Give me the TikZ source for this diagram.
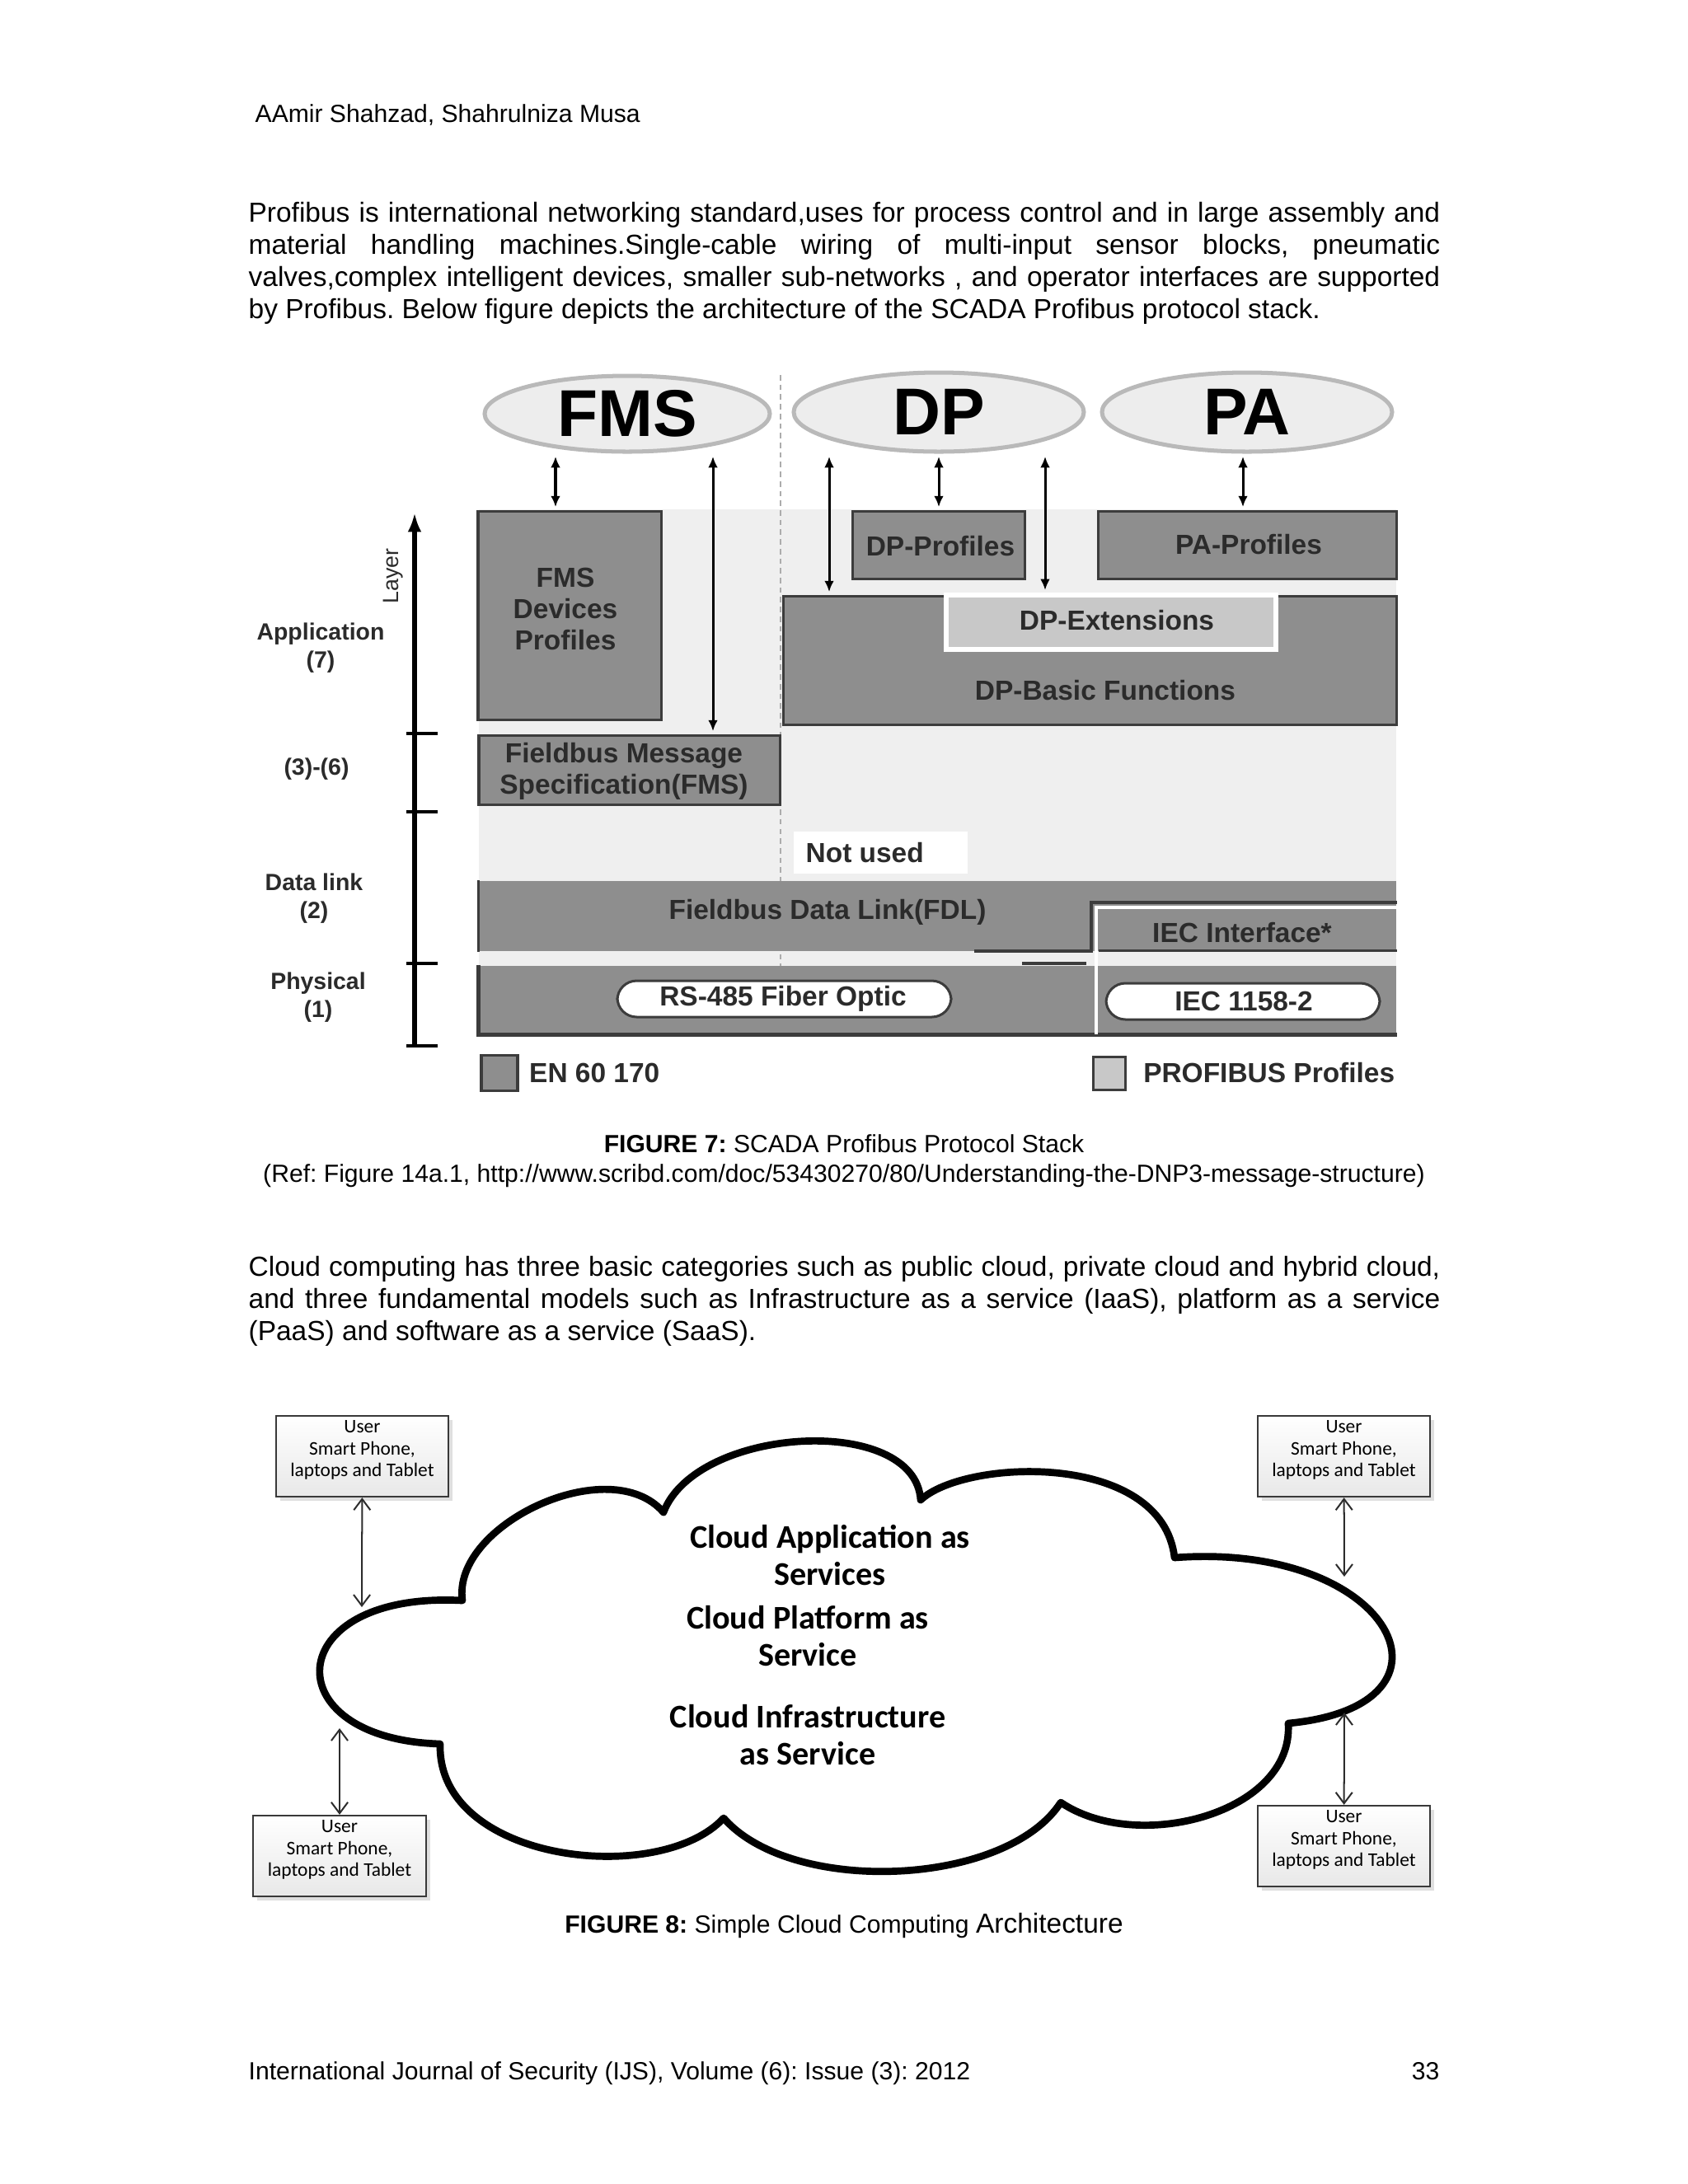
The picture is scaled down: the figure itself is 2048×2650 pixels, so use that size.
\documentclass[tikz,border=0pt]{standalone}
\usepackage{fontspec}
\setmainfont{Liberation Sans}
\newfontfamily\calibrifont{Carlito}
\usepackage{tikz}
\usetikzlibrary{arrows.meta,positioning,fit,shapes.geometric,shadows}
\definecolor{laydark}{HTML}{8E8E8E}
\definecolor{laylight}{HTML}{EFEFEF}
\definecolor{layext}{HTML}{C8C8C8}
\definecolor{layedge}{HTML}{3C3C3C}
\definecolor{laytext}{HTML}{2B2B2B}
\newcommand{\fsz}[2]{\fontsize{#1}{#2}\selectfont}
\newcommand{\pxu}{0.29883pt}
\frenchspacing

\begin{document}
\begin{tikzpicture}[x=0.29883pt, y=-0.29883pt, font=\fsz{10}{11.6},
  para/.style={anchor=north west, inner sep=0pt, text width=432pt, align=justify},
  lay/.style={fill=laydark, draw=layedge, line width=0.9pt, inner sep=0pt},
  ext/.style={fill=layext, draw=white, line width=1.6pt, inner sep=0pt},
  pill/.style={fill=white, draw=layedge, line width=0.9pt, rounded corners=7pt, inner sep=0pt},
  txt/.style={font=\bfseries\fsz{10}{11.4}, text=laytext, align=center, inner sep=0pt},
  lvl/.style={font=\bfseries\fsz{8.5}{10}, text=laytext, align=center, inner sep=0pt},
  proto/.style={ellipse, fill=gray!14, draw=gray!55, line width=1.5pt, inner sep=0pt, font=\bfseries\fsz{24}{24}},
  arr/.style={{Latex[length=4pt,width=3.5pt]}-{Latex[length=4pt,width=3.5pt]}, line width=0.9pt, shorten <=1pt, shorten >=1pt},
  usr/.style={draw=gray!45!black, line width=0.7pt, top color=white, bottom color=gray!18,
    drop shadow={shadow xshift=1.5pt, shadow yshift=-1.5pt, opacity=0.25},
    font=\calibrifont\fsz{7}{7.9}, align=center, inner sep=0pt},
  link/.style={{Straight Barb[length=4pt,width=6pt]}-{Straight Barb[length=4pt,width=6pt]}, draw=gray!35!black, line width=0.6pt},
  svc/.style={font=\calibrifont\bfseries\fsz{12}{13.4}, align=center, inner sep=0pt},
  capt/.style={anchor=base, inner sep=0pt, font=\fsz{9}{11}}]
\fill[white] (0,0) rectangle (2048,2650);
\useasboundingbox (0,0) rectangle (2048,2650);
% page head and text
\node[anchor=base west, inner sep=0pt, font=\fsz{9}{11}] (hdr) at (309,148) {AAmir Shahzad, Shahrulniza Musa};
\node[para] (p1) at (301,245) {Profibus is international networking standard,uses for process control and in large assembly and\linebreak material handling machines.Single-cable wiring of multi-input sensor blocks, pneumatic\linebreak valves,complex intelligent devices, smaller sub-networks , and operator interfaces are supported\linebreak by Profibus. Below figure depicts the architecture of the SCADA Profibus protocol stack.};
% figure 7: protocol stack
\fill[laylight] (581,618) rectangle (1694,1255);
\draw[gray!65, line width=0.8pt, dash pattern=on 2pt off 1.5pt] (947,455) -- (947,1262);
\node[proto, minimum width=346*\pxu, minimum height=92*\pxu] (fms) at (761,502) {FMS};
\node[proto, minimum width=352*\pxu, minimum height=96*\pxu] (dp) at (1139,500) {DP};
\node[proto, minimum width=352*\pxu, minimum height=96*\pxu] (pa) at (1513,500) {PA};
\node[lay, fit={(580,620)(802,873)}] (fmsdev) {};
\node[txt] at (686,739) {FMS\\Devices\\Profiles};
\node[lay, fit={(581,892)(946,976)}] (fmsmsg) {};
\node[txt] at (757,936) {Fieldbus Message\\Specification(FMS)};
\node[lay, fit={(1034,620)(1243,702)}] (dpprof) {};
\node[txt] at (1141,663) {DP-Profiles};
\node[lay, fit={(1332,620)(1694,702)}] (paprof) {};
\node[txt] at (1515,661) {PA-Profiles};
\node[lay, fit={(950,723)(1694,879)}] (dpbasic) {};
\node[txt] at (1341,838) {DP-Basic Functions};
\node[ext, fit={(1148,722)(1548,788)}] (dpext) {};
\node[txt] at (1355,753) {DP-Extensions};
\node[fill=white, inner sep=0pt, fit={(963,1009)(1174,1060)}] (unused) {};
\node[txt, anchor=west] at (977,1035) {Not used};
% lower layers
\node[fill=laydark, inner sep=0pt, fit={(581,1069)(1694,1154)}] (fdl) {};
\node[txt] at (1004,1107) {Fieldbus Data Link(FDL)};
\node[fill=laydark, inner sep=0pt, fit={(581,1172)(1694,1255)}] (phys) {};
\draw[layedge, line width=0.9pt] (fdl.north west) -- (fdl.south west);
\draw[layedge, line width=1.6pt] (phys.north west) -- (phys.south west) -- (phys.south east);
\draw[layedge, line width=1.2pt] (1182,1154) -- (1324,1154) -- (1324,1095) -- (1695,1095);
\draw[white, line width=1.4pt] (1330,1255) -- (1330,1101) -- (1695,1101);
\draw[layedge, line width=1pt] (1240,1169) -- (1318,1169);
\node[inner sep=0pt, fit={(1334,1104)(1694,1153)}] (iecif) {};
\draw[layedge, line width=1pt] (iecif.south west) -- (iecif.south east);
\node[txt] at (1507,1132) {IEC Interface*};
\node[pill, fit={(749,1190)(1154,1234)}] (rs485) {};
\node[txt] at (950,1212) {RS-485 Fiber Optic};
\node[pill, fit={(1342,1193)(1674,1237)}] (iec1158) {};
\node[txt] at (1509,1215) {IEC 1158-2};
% arrows to the profiles
\coordinate (xa) at (674,0);
\coordinate (xb) at (865,0);
\coordinate (xc) at (1006,0);
\coordinate (xd) at (1139,0);
\coordinate (xe) at (1268,0);
\coordinate (xf) at (1508,0);
\draw[arr] (fms.south -| xa) -- (fmsdev.north -| xa);
\draw[arr] (fms.south -| xb) -- (fmsmsg.north -| xb);
\draw[arr] (dp.south -| xc) -- (dpbasic.north -| xc);
\draw[arr] (dp.south -| xd) -- (dpprof.north -| xd);
\draw[arr] (dp.south -| xe) -- (dpext.north -| xe);
\draw[arr] (pa.south -| xf) -- (paprof.north -| xf);
% layer axis
\coordinate (axbot) at (503,1269);
\coordinate (axtop) at (503,622);
\draw[-{Latex[length=7pt,width=5pt]}, line width=1.6pt] (axbot) -- (axtop);
\foreach \yy in {890,985,1169,1269}
  \draw[line width=1.4pt] (493,\yy) -- (531,\yy);
\node[rotate=90, inner sep=0pt, font=\fsz{8}{8}, text=laytext] (laylbl) at (477,699) {Layer};
\node[lvl] (l7) at (389,786) {Application\\(7)};
\node[lvl] (l36) at (384,933) {(3)-(6)};
\node[lvl] (l2) at (381,1090) {Data link\\(2)};
\node[lvl] (l1) at (386,1210) {Physical\\(1)};
% legend
\node[lay, fit={(584,1280)(628,1323)}] (enkey) {};
\node[txt, right=3.6pt of enkey] {EN 60 170};
\node[fill=layext, draw=layedge, line width=0.9pt, inner sep=0pt, fit={(1326,1282)(1365,1322)}] (pbkey) {};
\node[txt, right=6pt of pbkey] {PROFIBUS Profiles};
\node[capt] (cap7) at (1024,1398) {\textbf{FIGURE 7:} SCADA Profibus Protocol Stack};
\node[capt] (ref7) at (1024,1434) {(Ref: Figure 14a.1, http://www.scribd.com/doc/53430270/80/Understanding-the-DNP3-message-structure)};
\node[para] (p2) at (301,1524) {Cloud computing has three basic categories such as public cloud, private cloud and hybrid cloud,\linebreak and three fundamental models such as Infrastructure as a service (IaaS), platform as a service\linebreak (PaaS) and software as a service (SaaS).};
% figure 8: cloud
\draw[line width=2.6pt, line join=round] (561,1942)
  .. controls (548,1850) and (740,1760) .. (805,1835)
  .. controls (845,1730) and (1110,1715) .. (1117,1820)
  .. controls (1170,1770) and (1410,1760) .. (1425,1890)
  .. controls (1690,1870) and (1790,2070) .. (1563,2091)
  .. controls (1570,2200) and (1380,2250) .. (1287,2187)
  .. controls (1220,2290) and (960,2300) .. (878,2206)
  .. controls (800,2290) and (530,2260) .. (534,2116)
  .. controls (330,2110) and (340,1930) .. cycle;
\node[svc] (saas) at (1007,1887) {Cloud Application as\\Services};
\node[svc] (paas) at (980,1985) {Cloud Platform as\\Service};
\node[svc] (iaas) at (980,2105) {Cloud Infrastructure\\as Service};
\node[usr, fit={(335,1718)(544,1816)}] (u1) {User\\Smart Phone,\\laptops and Tablet};
\node[usr, fit={(1526,1718)(1735,1816)}] (u2) {User\\Smart Phone,\\laptops and Tablet};
\node[usr, fit={(307,2203)(517,2301)}] (u3) {User\\Smart Phone,\\laptops and Tablet};
\node[usr, fit={(1526,2191)(1735,2289)}] (u4) {User\\Smart Phone,\\laptops and Tablet};
\coordinate (e1) at (439,1950);
\coordinate (e2) at (1631,1913);
\coordinate (e3) at (412,2097);
\coordinate (e4) at (1631,2078);
\draw[link] (u1) -- (e1);
\draw[link] (u2) -- (e2);
\draw[link] (u3) -- (e3);
\draw[link] (u4) -- (e4);
\node[capt] (cap8) at (1024,2345) {\textbf{FIGURE 8:} Simple Cloud Computing {\fsz{10}{12}Architecture}};
% page foot
\node[anchor=base west, inner sep=0pt, font=\fsz{9}{11}] (ftr) at (301,2523) {International Journal of Security (IJS), Volume (6): Issue (3): 2012};
\node[anchor=base east, inner sep=0pt, font=\fsz{9}{11}] (pgno) at (1747,2523) {33};
\end{tikzpicture}
\end{document}
